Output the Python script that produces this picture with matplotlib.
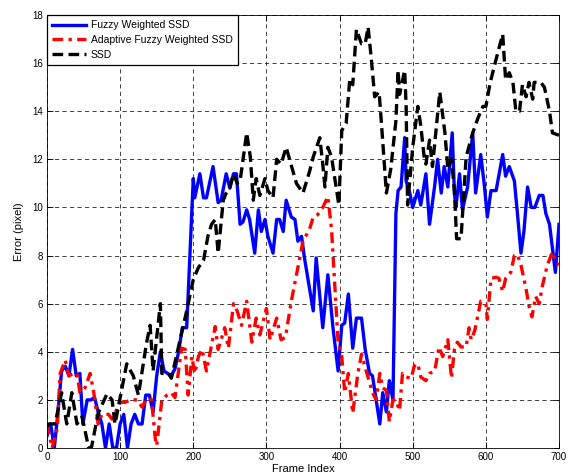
import matplotlib

matplotlib.use("Agg")
import matplotlib.pyplot as plt

# Fuzzy Weighted SSD
fuzzy_frames = [0, 5, 10, 15, 20, 25, 30, 35, 40, 45, 49, 55, 60, 65, 70, 75, 80, 85, 90, 95,
                100, 105, 110, 115, 120, 125, 130, 135, 140, 145, 150, 155, 160, 165, 170, 175,
                180, 185, 191, 200, 202, 209, 214, 218, 227, 234, 238, 245, 250, 255, 259, 264,
                268, 273, 277, 284, 289, 293, 298, 302, 309, 314, 318, 323, 327, 334, 339, 343,
                348, 352, 358, 364, 368, 377, 384, 391, 398, 403, 407, 412, 418, 423, 430, 435,
                441, 445, 450, 455, 459, 464, 468, 473, 477, 480, 484, 489, 491, 496, 500, 507,
                511, 518, 523, 530, 534, 539, 543, 548, 554, 557, 559, 564, 568, 575, 582, 586,
                593, 598, 602, 607, 614, 623, 627, 632, 639, 643, 648, 652, 657, 662, 667, 673,
                678, 682, 687, 695, 700]
fuzzy_error = [0.5, 1.0, 0.0, 1.5, 3.2, 3.4, 3.0, 4.1, 3.0, 3.1, 1.0, 2.0, 2.0, 2.1, 1.5, 1.0, 0.0, 1.0, 0.0, 0.0,
               1.0, 1.4, 0.0, 1.0, 1.4, 1.0, 1.0, 2.2, 2.2, 1.5, 3.0, 4.0, 3.2, 3.1, 3.0, 3.3,
               4.0, 5.0, 5.0, 11.2, 10.4, 11.4, 10.4, 10.4, 11.7, 10.2, 10.3, 11.4, 10.8, 11.4, 11.4, 9.3,
               9.4, 9.9, 9.5, 8.1, 9.9, 9.0, 9.5, 8.8, 8.1, 9.5, 9.5, 9.0, 10.3, 9.6, 9.5, 8.6,
               8.8, 7.9, 6.8, 5.7, 7.9, 5.0, 7.2, 5.0, 3.2, 5.1, 5.2, 6.4, 4.15, 5.4, 5.4, 4.1,
               3.1, 3.0, 2.0, 1.0, 2.3, 1.5, 2.8, 2.0, 9.75, 10.7, 10.85, 12.9, 11.1, 10.6, 10.0, 10.7,
               10.1, 11.4, 9.3, 10.9, 12.0, 10.6, 11.7, 10.85, 13.1, 10.6, 10.0, 11.4, 9.9, 10.85, 13.1, 10.6,
               12.2, 10.9, 9.6, 10.7, 10.7, 12.2, 11.3, 11.7, 11.1, 9.8, 8.1, 9.0, 10.85, 10.0, 10.0, 10.5,
               10.5, 9.75, 9.3, 7.3, 9.3]

# Adaptive Fuzzy Weighted SSD
adaptive_frames = [0, 7, 14, 18, 25, 30, 36, 41, 45, 52, 59, 64, 70, 75, 84, 89, 93, 100, 107, 114,
                   123, 130, 136, 143, 148, 150, 157, 164, 170, 175, 184, 189, 193, 198, 202, 207,
                   212, 218, 230, 234, 239, 243, 248, 255, 260, 266, 273, 280, 286, 291, 300, 305,
                   314, 320, 326, 334, 343, 350, 359, 364, 370, 377, 384, 389, 393, 398, 403, 407,
                   412, 418, 425, 430, 436, 445, 450, 455, 459, 464, 468, 473, 477, 482, 486, 491,
                   498, 502, 507, 511, 518, 523, 530, 536, 541, 548, 553, 557, 561, 566, 573, 577,
                   580, 585, 593, 600, 602, 607, 614, 618, 623, 627, 634, 639, 643, 648, 655, 659,
                   663, 668, 673, 677, 684, 691, 695, 700]
adaptive_error = [1.0, 0.0, 0.8, 3.1, 3.65, 3.0, 3.1, 3.1, 2.3, 2.5, 3.1, 2.3, 1.0, 1.4, 1.4, 1.2, 1.45, 1.9, 1.9, 2.0,
                  2.0, 1.7, 2.05, 2.0, 0.4, 0.1, 2.0, 2.2, 2.3, 2.1, 4.15, 4.1, 2.2, 3.8, 3.1, 3.8,
                  4.1, 3.2, 5.05, 4.1, 4.6, 5.0, 4.15, 6.0, 5.7, 5.1, 6.1, 4.4, 5.4, 4.7, 5.8, 4.5,
                  5.4, 4.5, 4.6, 6.1, 7.5, 8.6, 9.1, 9.6, 9.7, 10.0, 10.45, 9.1, 7.0, 4.4, 3.8, 2.3,
                  3.1, 1.45, 3.1, 3.9, 3.25, 2.3, 2.0, 3.1, 2.5, 2.4, 1.1, 2.0, 2.0, 1.55, 3.1, 2.95,
                  2.9, 3.4, 3.5, 2.95, 2.8, 3.1, 3.2, 4.2, 3.8, 4.5, 2.9, 4.1, 4.4, 4.2, 4.2, 5.0,
                  4.5, 4.9, 6.1, 6.0, 5.35, 7.05, 7.1, 7.05, 6.5, 7.05, 7.3, 8.0, 8.05, 7.6, 6.6, 5.9,
                  5.45, 6.3, 6.0, 6.7, 7.6, 8.15, 7.8, 7.6]

# SSD
ssd_frames = [0, 2, 11, 20, 27, 34, 41, 48, 57, 61, 70, 82, 89, 93, 109, 118, 125, 136, 141, 145,
              155, 157, 166, 170, 191, 200, 207, 214, 220, 225, 230, 234, 241, 245, 250, 255, 260,
              264, 273, 278, 282, 286, 291, 298, 302, 309, 314, 320, 327, 341, 350, 359, 364, 373,
              377, 380, 384, 389, 393, 399, 403, 409, 414, 418, 423, 430, 435, 439, 443, 448, 454,
              457, 464, 470, 477, 480, 482, 489, 491, 493, 500, 507, 511, 516, 518, 523, 527, 537,
              544, 548, 553, 557, 560, 566, 573, 582, 589, 596, 600, 606, 616, 623, 627, 632, 637,
              641, 646, 650, 655, 659, 664, 666, 675, 680, 687, 691, 700]
ssd_error = [0.9, 1.0, 1.0, 2.3, 1.0, 2.3, 1.0, 1.3, 0.0, 0.05, 1.45, 2.25, 2.0, 1.0, 3.5, 3.0, 2.2, 4.35, 5.1, 3.2,
             6.0, 3.1, 3.1, 2.9, 5.7, 7.0, 7.5, 7.8, 8.8, 9.3, 9.5, 8.1, 10.3, 10.6, 10.85, 11.4, 11.0,
             11.1, 13.1, 12.1, 10.3, 11.2, 10.5, 11.2, 10.7, 10.4, 12.0, 11.8, 12.5, 11.0, 10.6, 11.5, 12.1, 12.9,
             11.8, 10.85, 12.5, 12.1, 11.3, 10.1, 13.2, 13.5, 15.35, 15.1, 17.4, 16.8, 16.8, 17.5, 16.3, 14.6, 14.8,
             13.6, 10.6, 11.6, 13.6, 15.7, 14.7, 15.7, 14.2, 10.1, 12.5, 14.2, 13.4, 12.0, 11.8, 12.8, 11.7, 14.8,
             13.1, 11.6, 12.0, 10.7, 8.7, 8.7, 12.1, 13.1, 13.7, 14.2, 14.2, 15.2, 16.4, 17.2, 15.3, 15.6, 15.2,
             14.0, 14.0, 15.1, 14.6, 15.2, 14.5, 15.2, 15.2, 15.0, 14.0, 13.1, 13.0]

x_ticks = [0, 100, 200, 300, 400, 500, 600, 700]
y_ticks = [0, 2, 4, 6, 8, 10, 12, 14, 16, 18]

plt.rcParams["font.family"] = ["Liberation Sans", "DejaVu Sans"]

fig = plt.figure(figsize=(5.73, 4.76), dpi=100)
ax = fig.add_axes([0.082, 0.0588, 0.8936, 0.9097])

ax.plot(fuzzy_frames, fuzzy_error, color="#0000ff", linewidth=2.4, label="Fuzzy Weighted SSD")
ax.plot(adaptive_frames, adaptive_error, color="#ff0000", linewidth=2.4,
        dashes=(3.2, 1.6, 1.0, 1.6), label="Adaptive Fuzzy Weighted SSD")
ax.plot(ssd_frames, ssd_error, color="black", linewidth=2.4, dashes=(3.2, 1.6), label="SSD")

ax.set_xlim(0, 700)
ax.set_ylim(0, 18)
ax.set_xticks(x_ticks)
ax.set_yticks(y_ticks)
ax.tick_params(direction="in", top=True, right=True, labelsize=7, length=4, width=0.6, pad=3)
ax.grid(True, color="#222222", linestyle=(0, (5, 4)), linewidth=0.6)
for spine in ax.spines.values():
    spine.set_linewidth(0.6)

ax.set_xlabel("Frame Index", fontsize=8, labelpad=1)
ax.set_ylabel("Error (pixel)", fontsize=8, labelpad=6)

leg = ax.legend(loc="upper left", fontsize=7.5, fancybox=False, framealpha=1, edgecolor="black",
                borderaxespad=0, handlelength=3.2, handletextpad=0.5, borderpad=0.5,
                labelspacing=0.45)
leg.get_frame().set_linewidth(0.9)

fig.savefig("out.png", dpi=100)
